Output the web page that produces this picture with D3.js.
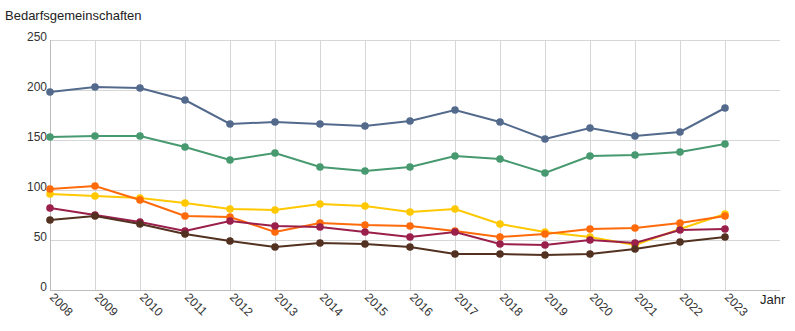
<!DOCTYPE html>
<html><head><meta charset="utf-8">
<script src="https://cdn.jsdelivr.net/npm/d3@7"></script>
<style>body{margin:0;background:#fff;}svg{font-family:"Liberation Sans",Arial,sans-serif;}</style>
</head><body><svg id="c" width="795" height="331"></svg>
<script>
const years = [2008,2009,2010,2011,2012,2013,2014,2015,2016,2017,2018,2019,2020,2021,2022,2023];
const yTicks = [0,50,100,150,200,250];
const seriesBlue   = [198,203,202,190,166,168,166,164,169,180,168,151,162,154,158,182];
const seriesGreen  = [153,154,154,143,130,137,123,119,123,134,131,117,134,135,138,146];
const seriesOrange = [101,104,90,74,73,58,67,65,64,59,53,56,61,62,67,74];
const seriesYellow = [96,94,92,87,81,80,86,84,78,81,66,58,53,45,61,76];
const seriesMaroon = [82,75,68,59,69,64,63,58,53,58,46,45,50,47,60,61];
const seriesBrown  = [70,74,66,56,49,43,47,46,43,36,36,35,36,41,48,53];
const seriesColors = ["#536a8c","#47996f","#ff6a0a","#ffc800","#9a1f4b","#523121"];
const allSeries = [seriesBlue,seriesGreen,seriesYellow,seriesOrange,seriesMaroon,seriesBrown];
const colorOrder = [0,1,3,2,4,5];

const svg = d3.select("#c");
const x = d3.scalePoint().domain(years).range([50,725]);
const y = d3.scaleLinear().domain([0,250]).range([290,40]);

// horizontal grid
svg.append("g").selectAll("line").data(yTicks).join("line")
  .attr("x1",50).attr("x2",780).attr("y1",d=>y(d)).attr("y2",d=>y(d))
  .attr("stroke",d=>d===0?"#bbb":"#d6d6d6").attr("stroke-width",1).attr("shape-rendering","crispEdges");
// vertical grid
svg.append("g").selectAll("line").data(years).join("line")
  .attr("x1",d=>x(d)).attr("x2",d=>x(d)).attr("y1",40).attr("y2",290)
  .attr("stroke",(d,i)=>i===0?"#bbb":"#d6d6d6").attr("stroke-width",1).attr("shape-rendering","crispEdges");

// y labels
svg.append("g").selectAll("text").data(yTicks).join("text")
  .attr("x",47).attr("y",d=>y(d)+1).attr("text-anchor","end")
  .attr("font-size",12).attr("fill","#333").text(d=>d);

// x labels
svg.append("g").selectAll("text").data(years).join("text")
  .attr("transform",d=>`translate(${x(d)-1},${298}) rotate(45)`)
  .attr("font-size",12).attr("fill","#333").text(d=>d);

svg.append("text").attr("x",5).attr("y",20).attr("font-size",13).attr("fill","#222").text("Bedarfsgemeinschaften");
svg.append("text").attr("x",760).attr("y",304).attr("font-size",13).attr("fill","#222").text("Jahr");

const line = d3.line().x((d,i)=>x(years[i])).y(d=>y(d));
allSeries.forEach((s,k)=>{
  const col = seriesColors[colorOrder[k]];
  const g = svg.append("g");
  g.append("path").datum(s).attr("d",line).attr("fill","none").attr("stroke",col).attr("stroke-width",2);
  g.selectAll("circle").data(s).join("circle")
    .attr("cx",(d,i)=>x(years[i])).attr("cy",d=>y(d)).attr("r",3.8).attr("fill",col);
});
</script></body></html>
